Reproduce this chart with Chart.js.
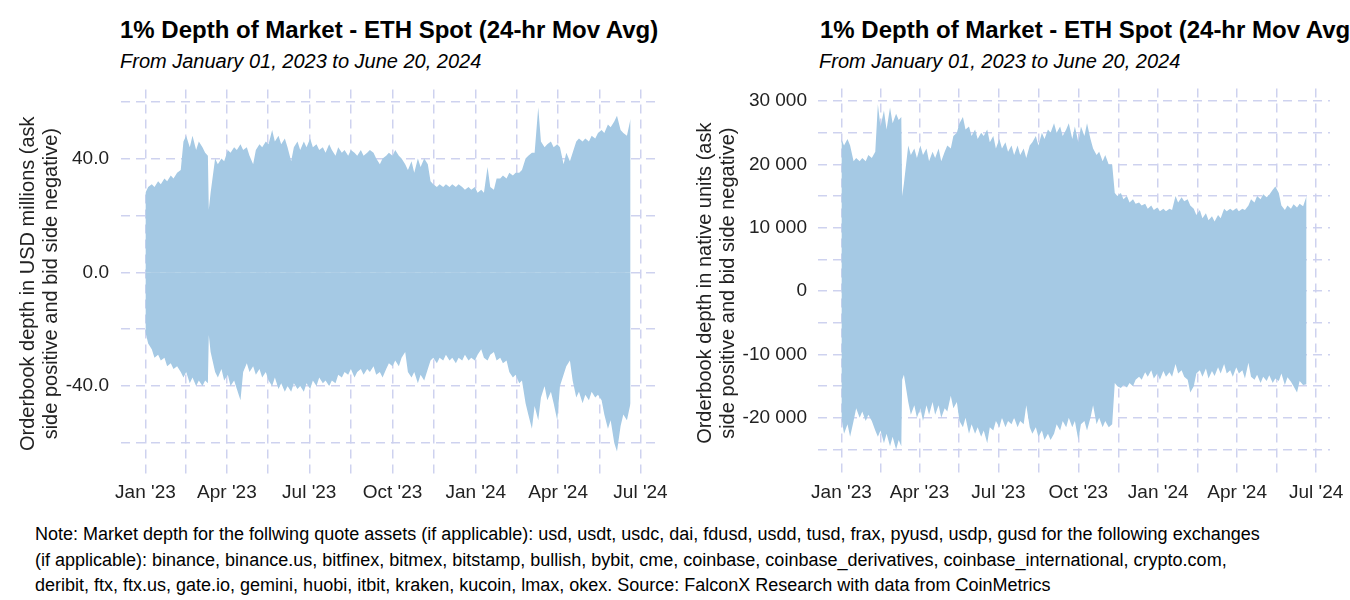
<!DOCTYPE html>
<html>
<head>
<meta charset="utf-8">
<script src="https://cdn.jsdelivr.net/npm/chart.js@4.4.1/dist/chart.umd.min.js"></script>
<style>
  body { margin: 0; width: 1350px; height: 600px; overflow: hidden; background: #fff; position: relative;
         font-family: "Liberation Sans", Arial, sans-serif; color: #000; }
  .title { position: absolute; top: 18px; font-weight: bold; font-size: 24px; line-height: 24px; white-space: nowrap; }
  .subtitle { position: absolute; top: 51px; font-style: italic; font-size: 20px; line-height: 20px; white-space: nowrap; }
  .box { position: absolute; top: 66px; width: 675px; height: 444px; }
  .note { position: absolute; left: 35px; top: 522px; font-size: 18px; line-height: 25.5px; white-space: nowrap; }
</style>
</head>
<body>
<div class="title" style="left:120px">1% Depth of Market - ETH Spot (24-hr Mov Avg)</div>
<div class="subtitle" style="left:120px">From January 01, 2023 to June 20, 2024</div>
<div class="title" style="left:820px">1% Depth of Market - ETH Spot (24-hr Mov Avg)</div>
<div class="subtitle" style="left:819px">From January 01, 2023 to June 20, 2024</div>

<div class="box" style="left:0"><canvas id="usdChart"></canvas></div>
<div class="box" style="left:675px"><canvas id="ethChart"></canvas></div>

<div class="note">Note: Market depth for the follwing quote assets (if applicable): usd, usdt, usdc, dai, fdusd, usdd, tusd, frax, pyusd, usdp, gusd for the following exchanges<br>(if applicable): binance, binance.us, bitfinex, bitmex, bitstamp, bullish, bybit, cme, coinbase, coinbase_derivatives, coinbase_international, crypto.com,<br>deribit, ftx, ftx.us, gate.io, gemini, huobi, itbit, kraken, kucoin, lmax, okex. Source: FalconX Research with data from CoinMetrics</div>

<script>
// sample dates, about twice a week
const dates = [
    '2023-01-01','2023-01-04','2023-01-08','2023-01-11','2023-01-15','2023-01-18','2023-01-22','2023-01-25','2023-01-29','2023-02-01',
    '2023-02-05','2023-02-09','2023-02-12','2023-02-15','2023-02-19','2023-02-22','2023-02-26','2023-03-01','2023-03-05','2023-03-08',
    '2023-03-11','2023-03-12','2023-03-14','2023-03-19','2023-03-22','2023-03-26','2023-03-29','2023-04-02','2023-04-05','2023-04-09',
    '2023-04-12','2023-04-16','2023-04-19','2023-04-23','2023-04-26','2023-04-30','2023-05-03','2023-05-07','2023-05-10','2023-05-14',
    '2023-05-17','2023-05-21','2023-05-24','2023-05-28','2023-05-31','2023-06-04','2023-06-07','2023-06-11','2023-06-14','2023-06-18',
    '2023-06-21','2023-06-25','2023-06-28','2023-07-02','2023-07-05','2023-07-09','2023-07-12','2023-07-16','2023-07-19','2023-07-23',
    '2023-07-26','2023-07-30','2023-08-02','2023-08-06','2023-08-09','2023-08-13','2023-08-16','2023-08-20','2023-08-23','2023-08-27',
    '2023-08-30','2023-09-03','2023-09-06','2023-09-10','2023-09-13','2023-09-17','2023-09-20','2023-09-24','2023-09-27','2023-10-01',
    '2023-10-04','2023-10-08','2023-10-11','2023-10-15','2023-10-18','2023-10-22','2023-10-25','2023-10-29','2023-11-01','2023-11-05',
    '2023-11-09','2023-11-12','2023-11-15','2023-11-19','2023-11-22','2023-11-26','2023-11-29','2023-12-03','2023-12-06','2023-12-10',
    '2023-12-13','2023-12-17','2023-12-20','2023-12-24','2023-12-27','2023-12-31','2024-01-03','2024-01-07','2024-01-10','2024-01-14',
    '2024-01-17','2024-01-21','2024-01-24','2024-01-28','2024-01-31','2024-02-04','2024-02-07','2024-02-11','2024-02-14','2024-02-18',
    '2024-02-21','2024-02-25','2024-02-28','2024-03-03','2024-03-06','2024-03-10','2024-03-13','2024-03-17','2024-03-20','2024-03-24',
    '2024-03-27','2024-03-31','2024-04-03','2024-04-07','2024-04-10','2024-04-14','2024-04-17','2024-04-21','2024-04-24','2024-04-28',
    '2024-05-01','2024-05-05','2024-05-08','2024-05-12','2024-05-15','2024-05-19','2024-05-22','2024-05-26','2024-05-29','2024-06-02',
    '2024-06-05','2024-06-09','2024-06-12','2024-06-16','2024-06-20'
];

// USD millions
const usdAsk = [
    28, 30, 31, 30, 32, 31, 33, 32, 34, 33,
    35, 36, 46, 48, 44, 48, 43, 46, 44, 42,
    41, 22, 28, 40, 38, 40, 39, 43, 42, 44,
    43, 45, 43, 44, 41, 38, 43, 45, 44, 46,
    45, 50, 46, 48, 45, 47, 44, 39, 44, 46,
    43, 46, 44, 47, 44, 45, 43, 44, 42, 45,
    43, 41, 44, 42, 43, 41, 43, 42, 41, 43,
    41, 42, 43, 42, 40, 38, 40, 41, 42, 41,
    43, 41, 40, 38, 36, 39, 35, 40, 37, 40,
    38, 32, 31, 30, 31, 30, 31, 30, 31, 30,
    31, 30, 29, 30, 29, 30, 28, 29, 28, 37,
    30, 29, 33, 33, 34, 33, 35, 34, 35, 35,
    36, 40, 41, 42, 42, 58, 46, 44, 45, 46,
    44, 45, 44, 38, 42, 39, 42, 46, 47, 46,
    47, 46, 48, 47, 49, 50, 49, 52, 51, 53,
    55, 50, 49, 48, 54
];
const usdBid = [
    -21, -25, -27, -30, -29, -31, -30, -33, -32, -34,
    -33, -35, -37, -35, -39, -37, -40, -38, -40, -38,
    -39, -22, -28, -35, -37, -34, -38, -36, -40, -38,
    -41, -45, -35, -32, -35, -33, -36, -34, -37, -35,
    -38, -40, -37, -41, -39, -42, -40, -42, -39, -41,
    -40, -42, -39, -41, -38, -40, -37, -39, -38, -40,
    -38, -39, -36, -37, -35, -36, -34, -37, -35, -34,
    -36, -34, -35, -33, -36, -35, -37, -34, -32, -33,
    -31, -33, -30, -28, -35, -37, -35, -39, -36, -38,
    -34, -31, -30, -32, -30, -31, -29, -31, -30, -32,
    -30, -31, -29, -31, -30, -31, -29, -27, -30, -31,
    -29, -28, -31, -30, -32, -31, -35, -37, -36, -39,
    -38, -46, -50, -55, -47, -52, -44, -40, -45, -42,
    -46, -52, -40, -36, -33, -31, -38, -44, -42, -46,
    -43, -45, -42, -44, -43, -45, -50, -55, -52, -60,
    -63, -54, -50, -52, -46
];

// native units (ETH)
const ethAsk = [
    24000, 23000, 24000, 23000, 20500, 21000, 20500, 21000, 20500, 21500,
    21000, 22000, 29500, 26000, 28500, 25500, 29000, 26500, 28000, 27000,
    27500, 15000, 17000, 23000, 21500, 22500, 21000, 23000, 21500, 22500,
    20500, 22000, 21000, 22500, 20500, 22000, 23000, 22500, 24500, 25000,
    26500, 27500, 25500, 26000, 24500, 25500, 24000, 25000, 24500, 25500,
    23500, 24500, 22500, 24000, 22500, 23500, 22000, 23000, 21500, 23000,
    21500, 22500, 21000, 23000, 23500, 24500, 23000, 25000, 24000, 25500,
    25000, 26500, 25000, 26000, 24500, 25500, 26500, 24000, 26000, 23500,
    26000, 24500, 26500, 24000, 22500, 21500, 22000, 20500, 21500, 20000,
    20000, 15500, 15000, 15500, 14500, 15000, 14000, 14500, 13800, 14000,
    13500, 13800, 13000, 13500, 12800, 13200, 12600, 13000, 12600, 13000,
    12800, 15000, 14000, 14800, 14200, 14500, 13500, 13000, 12000, 12800,
    11500, 12300, 11200, 11800, 11000, 12000, 11500, 13000, 12600, 13000,
    12700, 13100, 12600, 13000, 12800, 13500, 14500, 14000, 15000, 14500,
    15300, 14800, 15200, 16000, 16500, 15500, 13500, 12800, 13500, 13000,
    13700, 13200, 13800, 13400, 15000
];
const ethBid = [
    -20000, -22500, -21000, -23000, -20500, -18500, -20000, -19000, -20500, -19500,
    -20500, -22000, -23000, -22000, -24000, -22500, -24500, -23000, -25000, -23500,
    -24500, -14000, -13200, -17500, -19500, -18000, -20000, -18500, -20500, -18000,
    -19500, -17500, -19500, -18000, -20000, -18500, -19000, -16500, -18500, -17500,
    -20500, -21500, -20000, -22500, -21000, -22500, -21500, -23000, -22000, -24000,
    -21500, -22000, -20500, -21500, -20000, -21500, -20500, -21000, -20000, -21500,
    -20500, -21000, -18000, -21500, -22500, -21500, -23000, -22000, -23500, -22500,
    -23500, -22500, -21000, -22000, -20500, -21500, -20000, -21500, -20500, -23500,
    -21000, -20500, -22000, -20000, -18000, -21000, -20000, -21500, -20500, -21500,
    -21000, -14500, -15000, -15300, -14800, -15200, -14500, -15000, -14000, -13500,
    -14000, -12800, -13500, -12500, -13800, -13000, -14000, -12600, -13500, -12800,
    -13500, -11500, -13000, -12500, -13500, -14000, -16000, -15000, -13000, -12500,
    -13500, -12200, -13800, -12600, -13400, -12000, -13000, -11500, -13000, -12500,
    -13500, -12000, -13000, -12500, -13800, -11300, -13500, -14000, -13200, -14500,
    -13500, -14200, -13300, -14500, -13800, -14200, -13000, -14800, -13600, -14300,
    -15000, -16000, -14200, -14800, -14700
];

const xTickDates = ['2023-01-01', '2023-04-01', '2023-07-01', '2023-10-01', '2024-01-01', '2024-04-01', '2024-07-01'];
const xTickLabels = ["Jan '23", "Apr '23", "Jul '23", "Oct '23", "Jan '24", "Apr '24", "Jul '24"];

const usdTicks = [-40, 0, 40];
const usdTickLabels = ['-40.0', '0.0', '40.0'];
const ethTicks = [-20000, -10000, 0, 10000, 20000, 30000];
const ethTickLabels = ['-20 000', '-10 000', '0', '10 000', '20 000', '30 000'];

const FILL = '#a5c9e4';
const GRID = 'rgba(203, 208, 238, 0.95)';
const FONT = '"Liberation Sans", Arial, sans-serif';

function dayOf(s) {
    return (Date.parse(s) - Date.parse('2023-01-01')) / 86400000;
}

// major ticks plus one minor line halfway between (and beyond) them
function withMinor(major, min, max) {
    const out = [];
    const step = major[1] - major[0];
    for (let i = -1; i < major.length; i++) {
        const a = i < 0 ? major[0] - step : major[i];
        const b = i + 1 < major.length ? major[i + 1] : major[i] + step;
        if (i >= 0) out.push(major[i]);
        const mid = (a + b) / 2;
        if (mid > min && mid < max) out.push(mid);
    }
    return out;
}

const xDays = dates.map(dayOf);
const xMajor = xTickDates.map(dayOf);
const X_MIN = -27, X_MAX = 563;

function makeChart(id, ask, bid, yTicks, yLabels, yMin, yMax, yWidth, titleLines, titlePad, tickPad) {
    const toPts = arr => arr.map((v, i) => ({x: xDays[i], y: v}));
    new Chart(document.getElementById(id), {
        type: 'line',
        data: {
            datasets: [
                {data: toPts(ask), fill: 'origin', backgroundColor: FILL, borderWidth: 0, pointRadius: 0, tension: 0},
                {data: toPts(bid), fill: 'origin', backgroundColor: FILL, borderWidth: 0, pointRadius: 0, tension: 0},
                // faint seam where the two sides meet
                {data: toPts(ask.map(() => 0)), fill: false, borderColor: 'rgba(255,255,255,0.35)', borderWidth: 1, pointRadius: 0}
            ]
        },
        options: {
            responsive: true,
            maintainAspectRatio: false,
            animation: false,
            layout: {padding: {top: 7, right: 20, left: 0, bottom: 0}},
            plugins: {legend: {display: false}, tooltip: {enabled: false}},
            scales: {
                x: {
                    type: 'linear',
                    min: X_MIN,
                    max: X_MAX,
                    afterBuildTicks: scale => {
                        scale.ticks = withMinor(xMajor, X_MIN, X_MAX).map(v => ({value: v}));
                    },
                    afterFit: scale => { scale.height = 32; },
                    ticks: {
                        autoSkip: false,
                        maxRotation: 0,
                        padding: 3,
                        color: '#222',
                        font: {family: FONT, size: 19},
                        callback: value => {
                            const i = xMajor.indexOf(value);
                            return i >= 0 ? xTickLabels[i] : '';
                        }
                    },
                    grid: {color: GRID, lineWidth: 1.5, drawTicks: false},
                    border: {display: false, dash: [9, 6]}
                },
                y: {
                    min: yMin,
                    max: yMax,
                    afterBuildTicks: scale => {
                        scale.ticks = withMinor(yTicks, yMin, yMax).map(v => ({value: v}));
                    },
                    afterFit: scale => { scale.width = yWidth; },
                    ticks: {
                        autoSkip: false,
                        padding: tickPad,
                        color: '#222',
                        font: {family: FONT, size: 19},
                        callback: value => {
                            const i = yTicks.indexOf(value);
                            return i >= 0 ? yLabels[i] : '';
                        }
                    },
                    grid: {color: GRID, lineWidth: 1.5, drawTicks: false},
                    border: {display: false, dash: [9, 6]},
                    title: {
                        display: true,
                        text: titleLines,
                        color: '#222',
                        font: {family: FONT, size: 20, lineHeight: 1.15},
                        padding: {top: titlePad, bottom: 0}
                    }
                }
            }
        }
    });
}

makeChart('usdChart', usdAsk, usdBid, usdTicks, usdTickLabels, -72.3, 64.3, 121,
    ['Orderbook depth in USD millions (ask', 'side positive and bid side negative)'], 17, 12);
makeChart('ethChart', ethAsk, ethBid, ethTicks, ethTickLabels, -29500, 32000, 143,
    ['Orderbook depth in native units (ask', 'side positive and bid side negative)'], 19, 11);
</script>
</body>
</html>
